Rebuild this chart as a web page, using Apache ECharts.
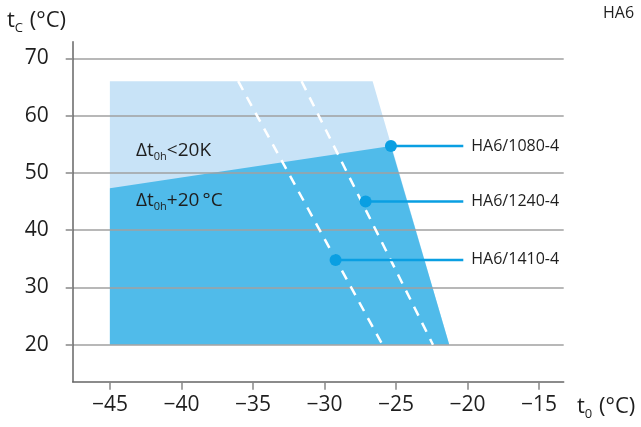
<!DOCTYPE html>
<html><head><meta charset="utf-8">
<script src="https://cdn.jsdelivr.net/npm/echarts@6/dist/echarts.min.js"></script>
<style>html,body{margin:0;padding:0;background:#fff}#c{width:641px;height:427px}</style>
</head><body><div id="c"></div>
<script>
// Axis ticks
const xTicks = [-45, -40, -35, -30, -25, -20, -15];
const yTicks = [20, 30, 40, 50, 60, 70];
// Operating envelope (t0, tc)
const lightArea = [[-45, 66], [-26.63, 66], [-21.27, 20], [-45, 20]];
const darkArea = [[-45, 47.3], [-25.35, 54.7], [-21.27, 20], [-45, 20]];
// Dashed boundary lines
const dashLine1 = [[-36.03, 66], [-25.94, 20]];
const dashLine2 = [[-31.6, 66], [-22.41, 20]];
// Model points
const models = ['HA6/1080-4', 'HA6/1240-4', 'HA6/1410-4'];
const modelT0 = [-25.35, -27.12, -29.22];
const modelTc = [54.7, 45.0, 34.8];
const leaderEnd = -20.29;

const FONT = '"Open Sans", "Noto Sans", sans-serif';
const BLUE = '#0a9fe2';
const TXT = '#1e1e1e';

function polySeries(data, color, z) {
  return {
    type: 'custom', z: z, silent: true,
    data: [0],
    renderItem: function (params, api) {
      const pts = data.map(p => api.coord(p));
      return { type: 'polygon', shape: { points: pts }, style: { fill: color } };
    }
  };
}

const series = [
  polySeries(lightArea, '#c8e3f7', 1),
  polySeries(darkArea, '#50bbea', 1),
  { type: 'line', data: dashLine1, symbol: 'none', z: 4, silent: true,
    lineStyle: { color: '#fff', width: 2.5, type: [10, 8] } },
  { type: 'line', data: dashLine2, symbol: 'none', z: 4, silent: true,
    lineStyle: { color: '#fff', width: 2.5, type: [10, 8] } }
];
models.forEach((m, i) => {
  series.push({
    type: 'line', name: m, z: 5, silent: true,
    data: [[modelT0[i], modelTc[i]], [leaderEnd, modelTc[i]]],
    symbol: 'none',
    lineStyle: { color: BLUE, width: 2.5 },
    endLabel: { show: true, formatter: m, distance: 8, color: TXT, fontSize: 16, fontFamily: FONT }
  });
  series.push({
    type: 'scatter', z: 6, silent: true,
    data: [[modelT0[i], modelTc[i]]],
    symbolSize: 12, itemStyle: { color: BLUE, opacity: 1 }
  });
});

const richTitle = {
  a: { fontSize: 22, fill: TXT, fontFamily: FONT },
  s: { fontSize: 13, fill: TXT, fontFamily: FONT, verticalAlign: 'bottom', padding: [14, 1, 0, 0] }
};
const richNote = {
  a: { fontSize: 19, fill: TXT, fontFamily: FONT },
  s: { fontSize: 11, fill: TXT, fontFamily: FONT, verticalAlign: 'bottom', padding: [12, 0, 0, 0] }
};

const chart = echarts.init(document.getElementById('c'), null, { renderer: 'canvas' });
chart.setOption({
  animation: false,
  grid: { left: 72.7, right: 77.3, top: 41.7, bottom: 45.3, containLabel: false },
  xAxis: {
    type: 'value', min: -47.6, max: -13.27, z: 3,
    axisLine: { show: true, onZero: false, lineStyle: { color: '#666', width: 1.5 } },
    axisTick: { show: true, customValues: xTicks, length: 8, lineStyle: { color: '#888', width: 1.5 } },
    axisLabel: { customValues: xTicks, margin: 13, fontSize: 21, color: TXT, fontFamily: FONT,
      formatter: v => String(v).replace('-', '\u2212') },
    splitLine: { show: false }
  },
  yAxis: {
    type: 'value', min: 13.54, max: 72.9, z: 3,
    axisLine: { show: true, onZero: false, lineStyle: { color: '#666', width: 1.5 } },
    axisTick: { show: true, customValues: yTicks, length: 7, lineStyle: { color: '#888', width: 1.5 } },
    axisLabel: { customValues: yTicks, margin: 24, fontSize: 21, color: TXT, fontFamily: FONT },
    splitLine: { show: true, lineStyle: { color: '#a0a0a0', width: 1.5 } }
  },
  series: series,
  graphic: [
    { type: 'text', left: 7, top: 10, z: 10, style: { text: '{a|t}{s|C}{a| (°C)}', rich: richTitle } },
    { type: 'text', left: 577, top: 396, z: 10, style: { text: '{a|t}{s|0}{a| (°C)}', rich: richTitle } },
    { type: 'text', left: 603, top: 5, z: 10, style: { text: 'HA6', fontSize: 16, fill: TXT, fontFamily: FONT } },
    { type: 'text', left: 136, top: 141, z: 10, style: { text: '{a|\u0394t}{s|0h}{a|<20K}', rich: richNote } },
    { type: 'text', left: 136, top: 191, z: 10, style: { text: '{a|\u0394t}{s|0h}{a|+20\u2009°C}', rich: richNote } }
  ]
});
</script></body></html>
